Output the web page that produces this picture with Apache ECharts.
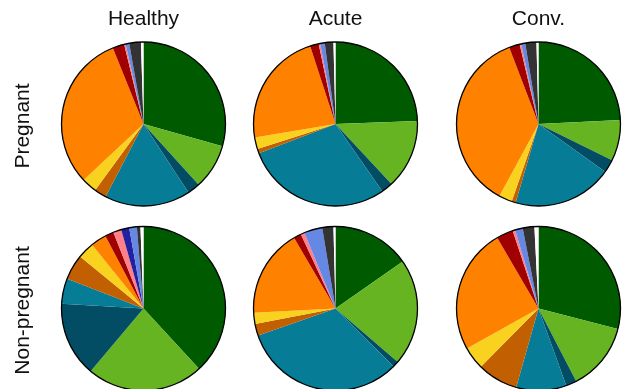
<!DOCTYPE html>
<html>
<head>
<meta charset="utf-8">
<script src="https://cdn.jsdelivr.net/npm/echarts@6/dist/echarts.min.js"></script>
<style>
  html, body { margin: 0; padding: 0; background: #ffffff; }
  #chart { width: 624px; height: 389px; }
</style>
</head>
<body>
<div id="chart"></div>
<script>
// Taxon groups, drawn clockwise from 12 o'clock
const groups = ['G1', 'G2', 'G3', 'G4', 'G5', 'G6', 'G7', 'G8', 'G9', 'G10', 'G11', 'G12', 'G13'];
const groupColors = ['#005a00', '#67b423', '#024d63', '#067c96', '#c25f00', '#f8d21f',
                     '#ff8100', '#a00000', '#ff8088', '#2222a0', '#6488e4', '#333333', '#ffffff'];

const columnTitles = ['Healthy', 'Acute', 'Conv.'];
const rowTitles = ['Pregnant', 'Non-pregnant'];

// Relative abundance (%) per group
const pregnantHealthy = [29.4, 8.9, 2.5, 16.9, 2.4, 3.0, 30.9, 2.3, 0.3, 0.0, 0.7, 2.3, 0.5];
const pregnantAcute   = [24.4, 13.6, 2.3, 28.8, 0.9, 2.3, 22.6, 1.7, 0.3, 0.0, 0.9, 1.7, 0.4];
const pregnantConv    = [24.2, 8.1, 2.6, 19.6, 0.8, 2.6, 36.3, 2.1, 0.3, 0.0, 0.8, 2.2, 0.4];
const nonPregHealthy  = [38.2, 23.0, 14.8, 5.0, 5.0, 3.3, 3.1, 1.7, 1.6, 1.6, 1.5, 0.7, 0.6];
const nonPregAcute    = [15.3, 21.0, 1.2, 32.2, 2.3, 2.2, 17.4, 1.5, 0.75, 0.0, 3.6, 2.2, 0.4];
const nonPregConv     = [29.0, 13.4, 2.1, 9.9, 8.0, 4.5, 24.7, 3.3, 0.5, 0.0, 1.5, 2.3, 0.8];

const panels = [
  { values: pregnantHealthy, center: [143.5, 124] },
  { values: pregnantAcute,   center: [335.5, 124] },
  { values: pregnantConv,    center: [538.5, 124] },
  { values: nonPregHealthy,  center: [143.5, 308.5] },
  { values: nonPregAcute,    center: [335.5, 308.5] },
  { values: nonPregConv,     center: [538.5, 308.5] }
];
const pieRadius = 82;

const series = [];
panels.forEach(p => {
  series.push({
    type: 'pie',
    center: p.center,
    radius: pieRadius,
    startAngle: 90,
    clockwise: true,
    silent: true,
    animation: false,
    label: { show: false },
    labelLine: { show: false },
    itemStyle: { borderWidth: 0 },
    data: groups.map((g, i) => ({ name: g, value: p.values[i], itemStyle: { color: groupColors[i] } }))
  });
  // black outline around each pie
  series.push({
    type: 'pie',
    center: p.center,
    radius: pieRadius,
    silent: true,
    animation: false,
    label: { show: false },
    labelLine: { show: false },
    itemStyle: { color: 'rgba(0,0,0,0)', borderColor: '#000000', borderWidth: 1.3 },
    data: [{ name: 'outline', value: 1 }]
  });
});

const textFont = { fontFamily: 'Liberation Sans, Arial, sans-serif', fontSize: 21, fill: '#111111' };
const graphics = [];
columnTitles.forEach((t, i) => {
  graphics.push({
    type: 'text',
    x: panels[i].center[0],
    y: 19,
    style: Object.assign({ text: t, textAlign: 'center', textVerticalAlign: 'middle' }, textFont)
  });
});
rowTitles.forEach((t, i) => {
  graphics.push({
    type: 'text',
    x: 23,
    y: panels[i * 3].center[1] + 2,
    rotation: Math.PI / 2,
    style: Object.assign({ text: t, textAlign: 'center', textVerticalAlign: 'middle' }, textFont)
  });
});

const chart = echarts.init(document.getElementById('chart'), null, { renderer: 'canvas' });
chart.setOption({
  backgroundColor: '#ffffff',
  animation: false,
  series: series,
  graphic: graphics
});
</script>
</body>
</html>
